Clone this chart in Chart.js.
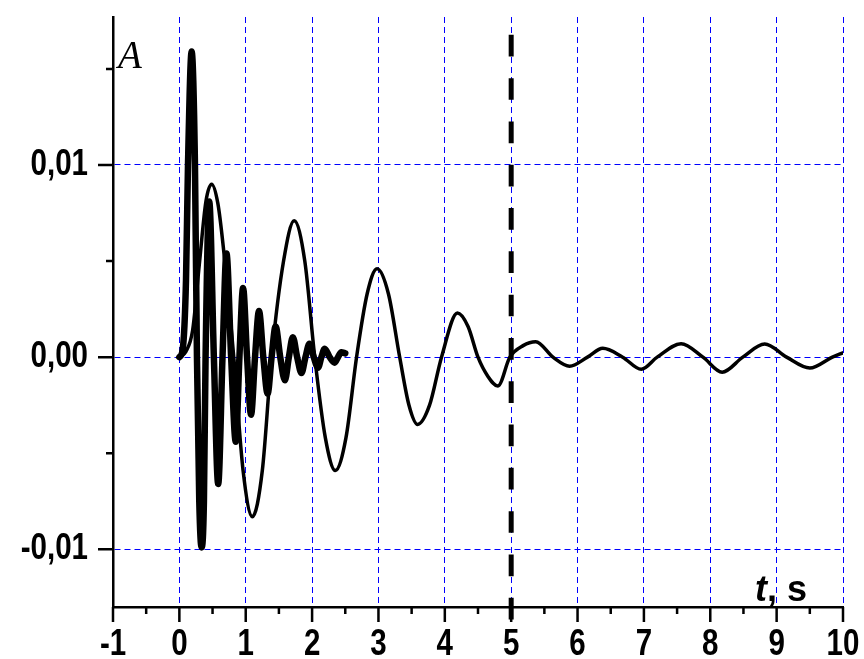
<!DOCTYPE html>
<html>
<head>
<meta charset="utf-8">
<script src="https://cdn.jsdelivr.net/npm/chart.js@4.4.0/dist/chart.umd.min.js"></script>
<style>
  html, body { margin: 0; padding: 0; background: #fff; }
  #chart { display: block; }
</style>
</head>
<body>
<canvas id="chart" width="864" height="659"></canvas>
<script>
// thin curve: slow damped oscillation, 0..10 s
const thinT = [0, 0.1, 0.2, 0.3, 0.4, 0.486, 0.58, 0.66, 0.82, 0.96, 1.10, 1.25, 1.39, 1.57, 1.73, 1.89, 2.04, 2.2, 2.35, 2.51, 2.67,
  2.83, 2.98, 3.15, 3.32, 3.46, 3.59, 3.77, 3.95, 4.19, 4.35, 4.5, 4.65, 4.8, 4.98, 5.18, 5.37, 5.63, 5.88, 6.15, 6.38, 6.68, 6.96, 7.2,
  7.56, 7.89, 8.18, 8.49, 8.82, 9.15, 9.5, 9.84, 10.0];
const thinA = [0, 0.0003, 0.0014, 0.0048, 0.0081, 0.0090, 0.0080, 0.0058, 0, -0.0059, -0.0083, -0.0059, 0, 0.0050, 0.0071, 0.0050, 0, -0.0042, -0.0059, -0.0042, 0,
  0.0033, 0.0046, 0.0033, 0, -0.0025, -0.0035, -0.0025, 0, 0.0023, 0.0016, 0, -0.0010, -0.0015, 0, 0.0006, 0.0008, 0, -0.00047, 0, 0.00046, 0, -0.00063, 0,
  0.0007, 0, -0.00078, 0, 0.00068, 0, -0.00057, 0, 0.00023];

// thick curve: fast damped oscillation, 0..2.5 s
const thickT = [0, 0.05, 0.1, 0.13, 0.185, 0.235, 0.265, 0.30, 0.335, 0.37, 0.395, 0.45, 0.52, 0.585, 0.65, 0.71, 0.78, 0.85, 0.905, 0.96,
  1.02, 1.08, 1.14, 1.2, 1.265, 1.33, 1.39, 1.45, 1.52, 1.59, 1.65, 1.71, 1.775, 1.84, 1.90, 1.96, 2.025, 2.09, 2.14, 2.19, 2.265, 2.34,
  2.39, 2.44, 2.5];
const thickA = [0, 0.0004, 0.0040, 0.0100, 0.0159, 0.0100, 0, -0.0075, -0.0099, -0.0075, 0, 0.0081, 0, -0.0066, 0, 0.0054, 0, -0.0044, 0, 0.0036,
  0, -0.0030, 0, 0.0024, 0, -0.0019, 0, 0.0016, 0, -0.0012, 0, 0.00104, 0, -0.00083, 0, 0.0007, 0, -0.00055, 0, 0.00044, 0, -0.00029,
  0, 0.00026, 0.0002];

// vertical dashed marker at t = 5 s
const markerT = [5, 5];
const markerA = [0.01677, -0.01365];

const xTicks = [-1, 0, 1, 2, 3, 4, 5, 6, 7, 8, 9, 10];
const xTickLabels = ['-1', '0', '1', '2', '3', '4', '5', '6', '7', '8', '9', '10'];
const xMinor = [-0.5, 0.5, 1.5, 2.5, 3.5, 4.5, 5.5, 6.5, 7.5, 8.5, 9.5];
const yTicks = [-0.01, 0, 0.01];
const yTickLabels = ['-0,01', '0,00', '0,01'];
const yMinor = [-0.005, 0.005, 0.015];

const toPoints = (ts, as) => ts.map((t, i) => ({ x: t, y: as[i] }));

const sansBold = "bold 36px 'Liberation Sans', Arial, sans-serif";
const sansBoldItalic = "italic bold 36px 'Liberation Sans', Arial, sans-serif";

// Arial-Narrow look: squeeze Liberation Sans horizontally
function narrowText(ctx, text, x, y, align) {
  ctx.save();
  ctx.translate(x, y);
  ctx.scale(0.82, 1);
  ctx.textAlign = align;
  ctx.fillText(text, 0, 0);
  ctx.restore();
}

const axisExtras = {
  id: 'axisExtras',
  afterDraw(chart) {
    const { ctx, chartArea: area, scales: { x, y } } = chart;
    ctx.save();
    ctx.strokeStyle = '#000';
    ctx.lineWidth = 2.5;
    ctx.beginPath();
    xTicks.forEach(v => {
      const px = x.getPixelForValue(v);
      ctx.moveTo(px, area.bottom);
      ctx.lineTo(px, area.bottom + 15);
    });
    xMinor.forEach(v => {
      const px = x.getPixelForValue(v);
      ctx.moveTo(px, area.bottom);
      ctx.lineTo(px, area.bottom + 7);
    });
    yTicks.forEach(v => {
      const py = y.getPixelForValue(v);
      ctx.moveTo(area.left, py);
      ctx.lineTo(area.left - 15, py);
    });
    yMinor.forEach(v => {
      const py = y.getPixelForValue(v);
      ctx.moveTo(area.left, py);
      ctx.lineTo(area.left - 7, py);
    });
    ctx.stroke();

    ctx.fillStyle = '#000';
    ctx.textBaseline = 'alphabetic';
    ctx.font = sansBold;
    xTicks.forEach((v, i) => {
      narrowText(ctx, xTickLabels[i], x.getPixelForValue(v), area.bottom + 48, 'center');
    });
    yTicks.forEach((v, i) => {
      narrowText(ctx, yTickLabels[i], area.left - 25, y.getPixelForValue(v) + 10, 'right');
    });

    ctx.textAlign = 'left';
    ctx.font = "italic 39px 'Liberation Serif', 'Times New Roman', serif";
    ctx.fillText('A', area.left + 5, 68);

    // axis title "t, s"
    ctx.font = sansBoldItalic;
    const tx = 755;
    ctx.fillText('t', tx, 601);
    const w = ctx.measureText('t').width;
    ctx.font = sansBold;
    ctx.fillText(', s', tx + w, 601);
    ctx.restore();
  }
};

const zeroPadding = s => {
  s.paddingTop = 0;
  s.paddingBottom = 0;
  s.paddingLeft = 0;
  s.paddingRight = 0;
};

new Chart(document.getElementById('chart'), {
  type: 'line',
  data: {
    datasets: [
      {
        data: toPoints(thinT, thinA),
        borderColor: '#000',
        borderWidth: 3.5,
        pointRadius: 0,
        cubicInterpolationMode: 'monotone',
        borderJoinStyle: 'round',
        borderCapStyle: 'round'
      },
      {
        data: toPoints(thickT, thickA),
        borderColor: '#000',
        borderWidth: 6.5,
        pointRadius: 0,
        cubicInterpolationMode: 'monotone',
        borderJoinStyle: 'round',
        borderCapStyle: 'round'
      },
      {
        data: toPoints(markerT, markerA),
        borderColor: '#000',
        borderWidth: 5,
        borderDash: [21.7, 21.6],
        pointRadius: 0,
        clip: false
      }
    ]
  },
  options: {
    responsive: false,
    animation: false,
    layout: { padding: { top: 17, right: 21, left: 0, bottom: 0 } },
    plugins: { legend: { display: false }, tooltip: { enabled: false } },
    scales: {
      x: {
        type: 'linear',
        min: -1,
        max: 10,
        afterFit: s => { s.height = 52; zeroPadding(s); },
        afterBuildTicks: s => { s.ticks = xTicks.map(v => ({ value: v })); },
        ticks: { display: false },
        grid: {
          drawTicks: false,
          color: c => (c.tick && c.tick.value === -1 ? 'rgba(0,0,0,0)' : '#0000ff'),
          lineWidth: 1
        },
        border: { display: true, color: '#000', width: 2.5, dash: [6, 4] }
      },
      y: {
        min: -0.013,
        max: 0.0177,
        afterFit: s => { s.width = 113; zeroPadding(s); },
        afterBuildTicks: s => { s.ticks = yTicks.map(v => ({ value: v })); },
        ticks: { display: false },
        grid: {
          drawTicks: false,
          color: '#0000ff',
          lineWidth: 1
        },
        border: { display: true, color: '#000', width: 2.5, dash: [6, 4] }
      }
    }
  },
  plugins: [axisExtras]
});
</script>
</body>
</html>
